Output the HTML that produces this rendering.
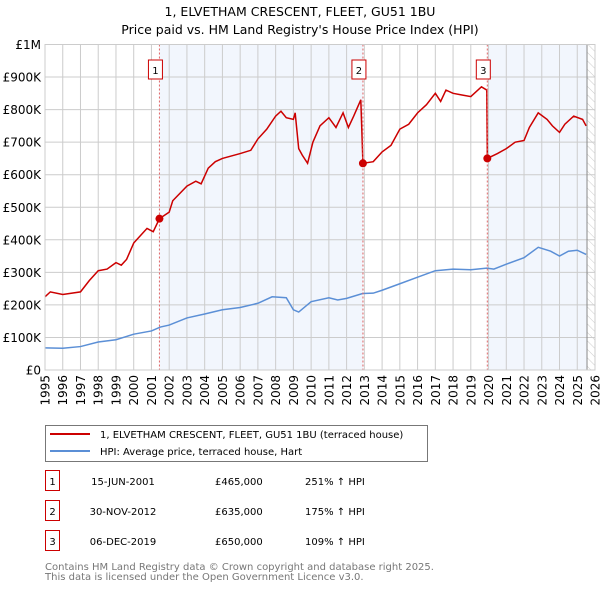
<!DOCTYPE html>
<html><head><meta charset="utf-8"><style>
body{margin:0;background:#fff;font-family:"DejaVu Sans","Liberation Sans",sans-serif;}
svg text{font-family:"DejaVu Sans","Liberation Sans",sans-serif;}
</style></head><body>
<svg id="c" width="600" height="590" viewBox="0 0 600 590" xmlns="http://www.w3.org/2000/svg">
<defs><pattern id="hatch" width="6" height="6" patternUnits="userSpaceOnUse" patternTransform="rotate(-45)"><line x1="0" y1="0" x2="0" y2="6" stroke="#ccc" stroke-width="1"/></pattern></defs>
<text x="300" y="16" text-anchor="middle" font-size="12.5">1, ELVETHAM CRESCENT, FLEET, GU51 1BU</text>
<text x="300" y="34" text-anchor="middle" font-size="12.5">Price paid vs. HM Land Registry's House Price Index (HPI)</text>
<g id="plot"></g>
<g>
<rect x="45.5" y="425.5" width="382" height="36" fill="#fff" stroke="#777"/>
<line x1="50" y1="434" x2="90" y2="434" stroke="#cc0000" stroke-width="2"/>
<text x="100" y="438" font-size="10">1, ELVETHAM CRESCENT, FLEET, GU51 1BU (terraced house)</text>
<line x1="50" y1="451" x2="90" y2="451" stroke="#5b8fd6" stroke-width="2"/>
<text x="100" y="455" font-size="10">HPI: Average price, terraced house, Hart</text>
</g>
<g id="table" font-size="10"></g>
<text x="45" y="570" font-size="10" fill="#777">Contains HM Land Registry data © Crown copyright and database right 2025.</text>
<text x="45" y="580" font-size="10" fill="#777">This data is licensed under the Open Government Licence v3.0.</text>
</svg>
<script>
const hpiT=[1995,1996,1997,1998,1999,2000,2001,2001.5,2002,2003,2004,2005,2006,2007,2007.8,2008.6,2009.0,2009.3,2010,2011,2011.5,2012,2012.9,2013.5,2014,2015,2016,2017,2018,2019,2019.9,2020.3,2021,2022,2022.8,2023.5,2024,2024.5,2025,2025.5];
const hpiV=[68,67,72,86,93,110,120,132,138,160,172,185,192,205,225,222,185,178,210,222,215,220,235,236,245,265,285,305,310,308,313,310,325,345,377,365,350,365,368,355];
const redT=[1995,1995.3,1996,1997,1997.5,1998,1998.5,1999,1999.3,1999.6,2000,2000.5,2000.75,2001.1,2001.45,2002,2002.2,2003,2003.5,2003.8,2004.2,2004.6,2005,2006,2006.6,2007,2007.5,2008,2008.3,2008.6,2009.0,2009.1,2009.3,2009.5,2009.8,2010.1,2010.5,2011,2011.4,2011.8,2012.1,2012.4,2012.8,2012.92,2013.5,2014,2014.5,2015,2015.5,2016,2016.5,2017,2017.3,2017.6,2018,2018.5,2019,2019.6,2019.9,2019.93,2020.5,2021,2021.5,2022,2022.3,2022.8,2023.3,2023.6,2024,2024.3,2024.8,2025.3,2025.5];
const redV=[225,240,232,240,275,305,310,330,322,340,390,420,435,425,465,485,520,565,580,572,620,640,650,665,675,710,740,780,795,775,770,790,680,660,635,700,750,775,745,790,745,780,830,635,640,670,690,740,755,790,815,850,825,860,850,845,840,870,860,650,665,680,700,705,745,790,770,750,730,755,780,770,750];
const saleT=[2001.45,2012.92,2019.93];
const saleV=[465,635,650];
const saleDates=["15-JUN-2001","30-NOV-2012","06-DEC-2019"];
const salePrices=["£465,000","£635,000","£650,000"];
const saleHpi=["251% ↑ HPI","175% ↑ HPI","109% ↑ HPI"];
const yTicks=[0,100,200,300,400,500,600,700,800,900,1000];
const yLabels=["£0","£100K","£200K","£300K","£400K","£500K","£600K","£700K","£800K","£900K","£1M"];
const xStart=1995,xEnd=2026,dataEnd=2025.55;
const L=45,R=595,T=44.5,B=370;
const X=t=>L+(t-xStart)/(xEnd-xStart)*(R-L);
const Y=v=>B-v/1000*(B-T);
const NS="http://www.w3.org/2000/svg";
function mk(p,tag,a){const e=document.createElementNS(NS,tag);for(const k in a)e.setAttribute(k,a[k]);p.appendChild(e);return e;}
const g=document.getElementById('plot');
let e;
e=mk(g,'rect',{x:L,y:T,width:R-L,height:B-T,fill:'#fff'});


e=mk(g,'rect',{x:X(saleT[0]),y:T,width:X(saleT[1])-X(saleT[0]),height:B-T,fill:'#eef3fc',opacity:0.75});


e=mk(g,'rect',{x:X(saleT[2]),y:T,width:X(dataEnd)-X(saleT[2]),height:B-T,fill:'#eef3fc',opacity:0.75});


e=mk(g,'rect',{x:X(dataEnd),y:T,width:R-X(dataEnd),height:B-T,fill:'url(#hatch)'});


for(let i=0;i<yTicks.length;i++){
 e=mk(g,'line',{x1:L,x2:R,y1:Y(yTicks[i]),y2:Y(yTicks[i]),stroke:'#ccc','stroke-width':1});
 
 
 e=mk(g,'text',{x:L-4,y:Y(yTicks[i])+4.5,'text-anchor':'end','font-size':12});
 e.textContent=yLabels[i];
 
 
}
for(let yr=xStart;yr<=xEnd;yr++){
 e=mk(g,'line',{x1:X(yr),x2:X(yr),y1:T,y2:B,stroke:'#ccc','stroke-width':1});
 
 
 e=mk(g,'text',{x:0,y:0,'text-anchor':'end','font-size':12,transform:`translate(${X(yr)+4.5},${B+5}) rotate(-90)`});
 e.textContent=yr;
 
 
}
e=mk(g,'line',{x1:X(dataEnd),x2:X(dataEnd),y1:T,y2:B,stroke:'#888','stroke-width':1});


e=mk(g,'polyline',{points:hpiT.map((t,i)=>X(t)+','+Y(hpiV[i])).join(' '),fill:'none',stroke:'#5b8fd6','stroke-width':1.5});


e=mk(g,'polyline',{points:redT.map((t,i)=>X(t)+','+Y(redV[i])).join(' '),fill:'none',stroke:'#cc0000','stroke-width':1.5});


for(let i=0;i<saleT.length;i++){
 e=mk(g,'line',{x1:X(saleT[i]),x2:X(saleT[i]),y1:T,y2:B,stroke:'#e06666','stroke-width':1,'stroke-dasharray':'2,2'});
 
 
 e=mk(g,'circle',{cx:X(saleT[i]),cy:Y(saleV[i]),r:4,fill:'#cc0000'});
 
 
 e=mk(g,'rect',{x:X(saleT[i])-11,y:60,width:14,height:19,fill:'#fff',stroke:'#cc0000'});
 
 
 e=mk(g,'text',{x:X(saleT[i])-4,y:74,'text-anchor':'middle','font-size':10});
 e.textContent=i+1;
 
 
}
e=mk(g,'rect',{x:L,y:T,width:R-L,height:B-T,fill:'none',stroke:'#ccc'});


const tb=document.getElementById('table');
for(let i=0;i<3;i++){
 const y=483+i*30;
 e=mk(tb,'rect',{x:45.5,y:y-12.5,width:14,height:20,fill:'#fff',stroke:'#cc0000'});
 
 
 e=mk(tb,'text',{x:52.5,y:y+2,'text-anchor':'middle'});e.textContent=i+1;
 
 
 e=mk(tb,'text',{x:123,y:y+2,'text-anchor':'middle'});e.textContent=saleDates[i];
 
 
 e=mk(tb,'text',{x:215,y:y+2});e.textContent=salePrices[i];
 
 
 e=mk(tb,'text',{x:305,y:y+2});e.textContent=saleHpi[i];
 
 
}
</script>
</body></html>
